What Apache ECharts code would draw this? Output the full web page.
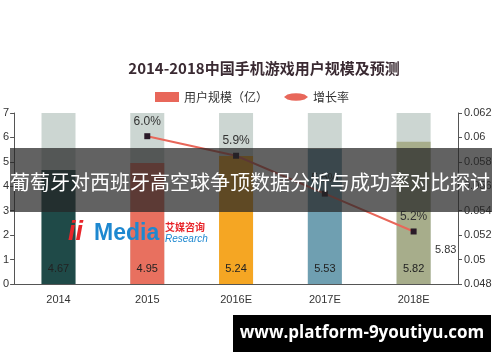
<!DOCTYPE html>
<html>
<head>
<meta charset="utf-8">
<script src="https://cdn.jsdelivr.net/npm/echarts@6/dist/echarts.min.js"></script>
<style>html,body{margin:0;padding:0;background:#fff}#c{width:500px;height:362px}</style>
</head>
<body>
<div id="c"></div>
<script>
const categories = ['2014', '2015', '2016E', '2017E', '2018E'];
const userScale = [4.67, 4.95, 5.24, 5.53, 5.82];
const backgroundMax = [7, 7, 7, 7, 7];
const growthRate = [null, 0.0601, 0.0585, 0.0554, 0.0523];
const growthLabels = ['', '6.0%', '5.9%', '5.5%', '5.2%'];
const barColors = ['#1f4a48', '#e8705f', '#f5a623', '#6f9fb1', '#a7ad8b'];
const leftTicks = {min: 0, max: 7, interval: 1};
const rightTicks = {min: 0.048, max: 0.062, interval: 0.002};

const chart = echarts.init(document.getElementById('c'));
const cjk = '"Noto Sans CJK SC", "Liberation Sans", sans-serif';
const num = '"Liberation Sans", Arial, sans-serif';

chart.setOption({
  animation: false,
  backgroundColor: '#fff',
  title: {
    text: '2014-2018中国手机游戏用户规模及预测',
    left: 259, top: 56, textAlign: 'center',
    textStyle: {fontFamily: cjk, fontSize: 15, fontWeight: 'bold', color: '#3a2a32'}
  },
  legend: {
    top: 86, left: 150, itemGap: 16, itemWidth: 24, itemHeight: 10,
    textStyle: {fontFamily: cjk, fontSize: 12, color: '#333'},
    data: [
      {name: '用户规模（亿）', icon: 'rect', itemStyle: {color: '#e8675a'}},
      {name: '增长率', icon: 'path://M0,5 L4,2 Q14,-1 24,2 L28,5 L24,8 Q14,11 4,8 Z', itemStyle: {color: '#e8675a'}}
    ]
  },
  grid: {left: 14, right: 42, top: 113, bottom: 78},
  xAxis: {
    type: 'category', data: categories,
    axisLine: {lineStyle: {color: '#555'}},
    axisTick: {lineStyle: {color: '#555'}},
    axisLabel: {fontFamily: num, fontSize: 11, color: '#333', margin: 10}
  },
  yAxis: [
    {type: 'value', min: leftTicks.min, max: leftTicks.max, interval: leftTicks.interval,
     splitLine: {show: false},
     axisLine: {show: true, lineStyle: {color: '#555'}},
     axisTick: {show: true, length: 4, lineStyle: {color: '#555'}},
     axisLabel: {fontFamily: num, fontSize: 11, color: '#333', margin: 5}},
    {type: 'value', min: rightTicks.min, max: rightTicks.max, interval: rightTicks.interval,
     splitLine: {show: false},
     axisLine: {show: true, lineStyle: {color: '#555'}},
     axisTick: {show: true, length: 4, lineStyle: {color: '#555'}},
     axisLabel: {fontFamily: num, fontSize: 11, color: '#333', margin: 6}}
  ],
  series: [
    {type: 'bar', name: 'bg', data: backgroundMax, barWidth: 34, barGap: '-100%',
     itemStyle: {color: '#ccd6d2'}, silent: true, z: 1},
    {type: 'bar', name: '用户规模（亿）', barWidth: 34,
     data: userScale.map((v, i) => ({value: v, itemStyle: {color: barColors[i]}})),
     label: {show: true, position: 'insideBottom', distance: 10, fontFamily: num, fontSize: 11, color: '#222'},
     z: 2},
    {type: 'line', name: '增长率', yAxisIndex: 1, data: growthRate,
     lineStyle: {color: '#e8675a', width: 2},
     itemStyle: {color: '#2a1a28'}, symbol: 'rect', symbolSize: 6, showSymbol: true,
     label: {show: true, position: 'top', distance: 6, fontFamily: num, fontSize: 12, color: '#333',
       formatter: p => growthLabels[p.dataIndex]},
     z: 3}
  ],
  graphic: [
    {type: 'text', left: 435, top: 244, z: 5,
     style: {text: '5.83', font: '11px "Liberation Sans", Arial, sans-serif', fill: '#333'}},
    {type: 'text', left: 68, top: 219, z: 5,
     style: {text: 'ii', font: 'italic bold 27px "Liberation Sans", Arial', fill: '#e8262b'}},
    {type: 'text', left: 94, top: 222, z: 5,
     style: {text: 'Media', font: 'bold 23px "Liberation Sans", Arial', fill: '#1e88d0'}},
    {type: 'text', left: 165, top: 222, z: 5,
     style: {text: '艾媒咨询', font: 'bold 10px "Noto Sans CJK SC"', fill: '#e8262b'}},
    {type: 'text', left: 165, top: 234, z: 5,
     style: {text: 'Research', font: 'italic 10px "Liberation Sans", Arial', fill: '#1e88d0'}},
    {type: 'rect', z: 100, shape: {x: 10, y: 148, width: 482, height: 64},
     style: {fill: 'rgba(38,38,38,0.72)'}},
    {type: 'text', z: 101, left: 10, top: 172,
     style: {text: '葡萄牙对西班牙高空球争顶数据分析与成功率对比探讨', font: '20px "Noto Sans CJK SC"', fill: '#fff'}},
    {type: 'rect', z: 100, shape: {x: 233, y: 315, width: 258, height: 37},
     style: {fill: '#000'}},
    {type: 'text', z: 101, x: 362, y: 333,
     style: {text: 'www.platform-9youtiyu.com', font: 'bold 17px "Open Sans", "Liberation Sans", sans-serif',
       fill: '#fff', align: 'center', verticalAlign: 'middle'}}
  ]
});
</script>
</body>
</html>
